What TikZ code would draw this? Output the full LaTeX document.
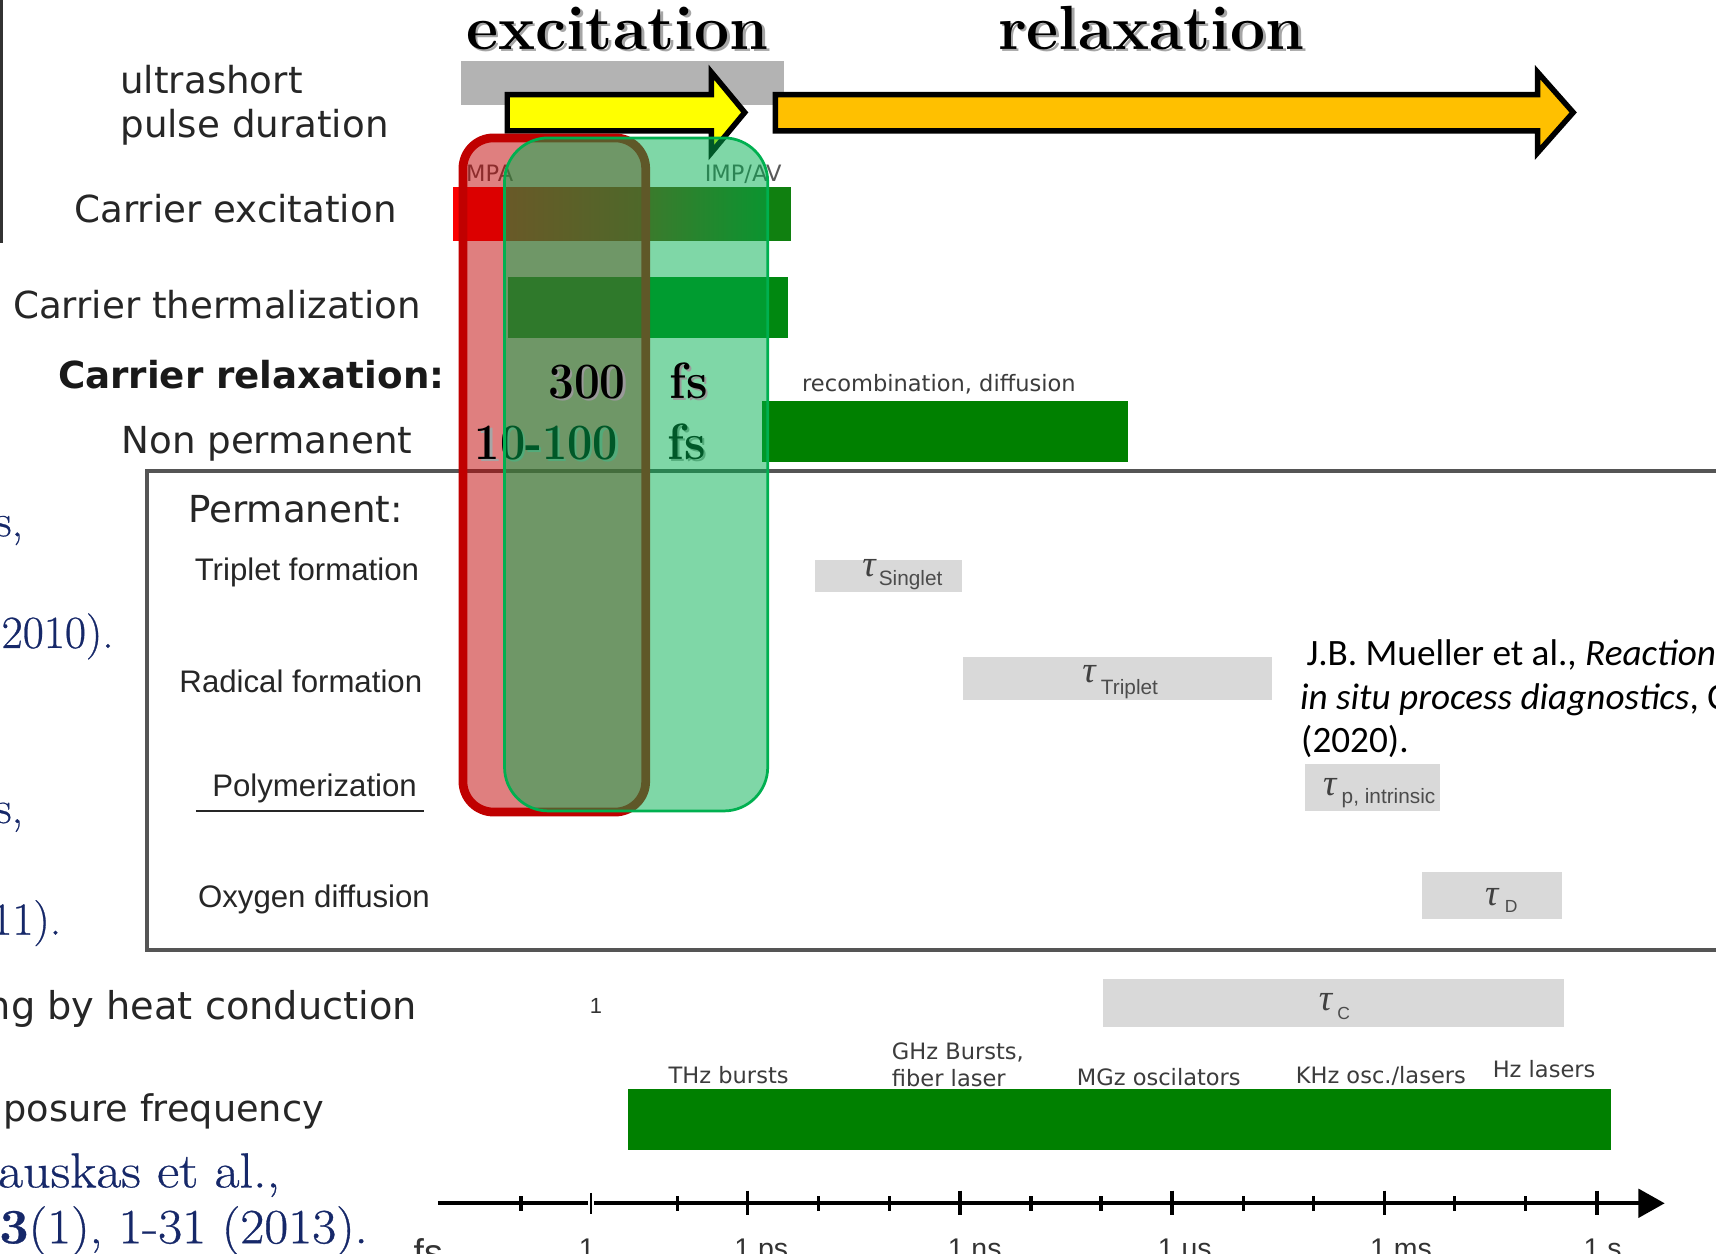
\documentclass[tikz,border=0pt]{standalone}
\usepackage{fontspec}
\usepackage{graphicx}
\newfontfamily\dvs{DejaVu Sans}
\newfontfamily\lsans{Liberation Sans}
\newfontfamily\lserif{Liberation Serif}
\newfontfamily\carl{Carlito}
\newfontfamily\citefont{Latin Modern Roman}[FakeBold=0.6]
\newcommand\fsz[1]{\fontsize{#1}{#1}\selectfont}
\definecolor{ovred}{RGB}{192,0,0}
\definecolor{ovgreen}{RGB}{0,176,80}
\definecolor{arrowyellow}{RGB}{255,255,0}
\definecolor{arroworange}{RGB}{255,192,0}
\definecolor{pulsegray}{RGB}{179,179,179}
\definecolor{taugray}{RGB}{217,217,217}
\definecolor{barred}{RGB}{250,0,0}
\definecolor{gradL}{RGB}{232,8,0}
\definecolor{gradR}{RGB}{24,120,16}
\definecolor{bargreenA}{RGB}{16,128,16}
\definecolor{thermgreen}{RGB}{0,136,16}
\definecolor{bargreen}{RGB}{0,128,0}
\definecolor{navy}{RGB}{22,40,105}
\definecolor{labeltext}{RGB}{38,38,38}
\definecolor{smalltext}{RGB}{60,60,60}
\definecolor{boxgray}{RGB}{85,85,85}
\definecolor{darkstrip}{RGB}{50,50,50}
\tikzset{
  lbl/.style={inner sep=0pt, outer sep=0pt, anchor=base west},
  lble/.style={inner sep=0pt, outer sep=0pt, anchor=base east},
  shadowtxt/.style={text=black!35},
  slabel/.style={lbl, text=labeltext, font=\dvs\fsz{34}},
  plabel/.style={lbl, text=labeltext, font=\lsans\fsz{28.5}},
  tinytxt/.style={lbl, text=smalltext, font=\dvs\fsz{20.6}},
  axlabel/.style={lbl, text=black!80, font=\lsans\fsz{26}},
  cite/.style={lble, text=navy, font=\citefont\fsz{42}},
  taubox/.style={fill=taugray},
  tausym/.style={lbl, text=black!75, font=\lserif\itshape\fsz{34}},
  tausub/.style={lbl, text=black!70, font=\lsans\fsz{19}},
  bigtitle/.style={lbl, font=\bfseries\fsz{57}},
  numtxt/.style={lbl, font=\bfseries\fsz{46.6}},
  minortick/.style={line width=3},
  majortick/.style={line width=3.5},
  bigarrow/.style={line width=5, draw=black, line join=miter},
}
\begin{document}
\begin{tikzpicture}[x=1pt,y=-1pt]
\useasboundingbox (0,0) rectangle (1568,1145);
\clip (0,0) rectangle (1568,1145);
\fill[white] (0,0) rectangle (1568,1145);

% left dark strip
\draw[line width=3, darkstrip] (1.5,0) -- (1.5,222);

% pulse duration bar
\fill[pulsegray] (421,56) rectangle (716,96);

% titles
\node[bigtitle, shadowtxt] (excsh) at (428.5,47.5) {excitation};
\node[bigtitle] (exc) at (426,45) {excitation};
\node[bigtitle, shadowtxt] (relsh) at (914.5,47.5) {relaxation};
\node[bigtitle] (rel) at (912,45) {relaxation};

% left labels
\node[slabel] (ultra) at (110,85) {ultrashort};
\node[slabel] (pulse) at (110,126) {pulse duration};
\node[slabel] (carexc) at (68,203) {Carrier excitation};
\node[slabel] (carth) at (12,291) {Carrier thermalization};
\node[slabel, font=\dvs\bfseries\fsz{34}, text=black!90] (carrel) at (53,355) {Carrier relaxation:};
\node[slabel, font=\dvs\fsz{34}] (nonperm) at (111,414) {Non permanent};
\node[slabel, anchor=base east, font=\dvs\fsz{35}] (heat) at (381,932) {ng by heat conduction};
\node[slabel, anchor=base east, font=\dvs\fsz{33.5}] (expo) at (296,1025) {posure frequency};

% cut citations at left
\node[cite] (c1) at (21,490) {s,};
\node[cite] (c2) at (104,592) {2010).};
\node[cite] (c3) at (21,752) {s,};
\node[cite] (c4) at (56,854) {11).};
\node[cite, font=\citefont\fsz{45}] (c5) at (256,1085) {\scalebox{1.1}[1]{auskas et al.,}};
\node[cite, font=\citefont\fsz{45}] (c6) at (336,1136) {\scalebox{1.06}[1]{\textbf{3}(1), 1-31 (2013).}};

% carrier excitation bar
\fill[barred] (414,171) rectangle (462,220);
\shade[left color=gradL, right color=gradR] (462,171) rectangle (700,220);
\fill[bargreenA] (700,171) rectangle (723,220);
\node[tinytxt, text=black!65] (mpa) at (426,166) {MPA};
\node[tinytxt, text=black!65] (impav) at (644,166) {IMP/AV};

% thermalization bar
\fill[thermgreen] (464,253) rectangle (720,309);

% non permanent bar
\fill[bargreen] (696,366.5) rectangle (1031,422);
\node[tinytxt] (recomb) at (733,358) {recombination, diffusion};

% permanent box
\draw[line width=3.5, boxgray] (1590,430) -- (134,430) -- (134,868) -- (1590,868);
\node[slabel] (perm) at (172,477) {Permanent:};
\node[plabel] (trip) at (178,530) {Triplet formation};
\node[plabel] (rad) at (164,633) {Radical formation};
\node[plabel] (poly) at (194,728) {Polymerization};
\draw[line width=2.5, black!85] (179,741) -- (387,741);
\node[plabel] (oxy) at (181,829) {Oxygen diffusion};

% tau boxes
\fill[taubox] (745,512) rectangle (879,541);
\node[tausym] (tsing) at (788,527) {τ};
\node[tausub] (ssing) at (803,535) {Singlet};
\fill[taubox] (880,600) rectangle (1162,640);
\node[tausym] (ttrip) at (989,624) {τ};
\node[tausub] (strip) at (1006,635) {Triplet};
\fill[taubox] (1192,698) rectangle (1316,741);
\node[tausym] (tpint) at (1209,727) {τ};
\node[tausub] (spint) at (1226,734) {p, intrinsic};
\fill[taubox] (1299,797) rectangle (1427,840);
\node[tausym] (tdiff) at (1357,827) {τ};
\node[tausub, font=\lsans\fsz{16}] (sdiff) at (1375,834) {D};

% reference
\node[lbl, font=\carl\fsz{34}, text=black] (cit1) at (1194,608) {J.B. Mueller et al., \textit{Reaction}};
\node[lbl, font=\carl\fsz{34}, text=black] (cit2) at (1188,648) {\textit{in situ process diagnostics}, C};
\node[lbl, font=\carl\fsz{34}, text=black] (cit3) at (1189,688) {(2020).};

% heat conduction row
\node[lbl, font=\lsans\fsz{20}, text=black!80] (hmark) at (539,926) {1};
\fill[taubox] (1008,895) rectangle (1429,938);
\node[tausym] (tcond) at (1205,923) {τ};
\node[tausub, font=\lsans\fsz{16}] (scond) at (1222,932) {C};

% exposure frequency bar
\fill[bargreen] (574,995) rectangle (1472,1051);
\node[tinytxt] (thz) at (611,990) {THz bursts};
\node[tinytxt] (ghz1) at (815,968.5) {GHz Bursts,};
\node[tinytxt] (ghz2) at (815,993) {fiber laser};
\node[tinytxt] (mgz) at (984,992) {MGz oscilators};
\node[tinytxt] (khz) at (1184,990) {KHz osc./lasers};
\node[tinytxt] (hzl) at (1364,985) {Hz lasers};

% time axis
\draw[line width=4] (400,1099.5) -- (537,1099.5);
\draw[line width=4] (543,1099.5) -- (1500,1099.5);
\fill (1497,1086) -- (1521,1099.5) -- (1497,1113) -- cycle;
\draw[line width=2] (540,1090) -- (540,1109);
\foreach \t in {476,619,748,813,942,1006,1136,1200,1329,1394}
  \draw[minortick] (\t,1093) -- (\t,1106.5);
\foreach \t in {683,877,1071,1265,1459}
  \draw[majortick] (\t,1088) -- (\t,1110);
\node[axlabel, font=\lsans\fsz{34}] (lfs) at (378,1156) {fs};
\node[axlabel] (l1) at (529,1149.5) {1};
\node[axlabel] (lps) at (671,1149.5) {1 ps};
\node[axlabel] (lns) at (866,1149.5) {1 ns};
\node[axlabel] (lus) at (1058,1149.5) {1 us};
\node[axlabel] (lms) at (1252,1149.5) {1 ms};
\node[axlabel] (ls) at (1447,1149.5) {1 s};

% big arrows
\draw[bigarrow, fill=arrowyellow] (463.5,86.5) -- (650,86.5) -- (650,66) -- (680.5,102.75) -- (650,139.5) -- (650,119.5) -- (463.5,119.5) -- cycle;
\draw[bigarrow, fill=arroworange] (708.5,86.5) -- (1405,86.5) -- (1405,66) -- (1437.5,102.75) -- (1405,139.5) -- (1405,119.5) -- (708.5,119.5) -- cycle;

% red overlay
\draw[line width=8, draw=ovred, fill=ovred, fill opacity=0.5, rounded corners=28] (423,126) rectangle (590,742);

% 10-100 fs (below green overlay)
\node[numtxt, shadowtxt] (n2sh) at (436,422) {\scalebox{0.88}[1]{10-100}};
\node[numtxt] (n2) at (434,420) {\scalebox{0.88}[1]{10-100}};
\node[numtxt, shadowtxt] (f2sh) at (612,422) {\scalebox{0.95}[1]{fs}};
\node[numtxt] (f2) at (610,420) {\scalebox{0.95}[1]{fs}};

% green overlay
\draw[line width=2.5, draw=ovgreen, fill=ovgreen, fill opacity=0.5, rounded corners=40] (461,126) rectangle (701.5,741);

% 300 fs (on top)
\node[numtxt, text=black!40] (n1sh) at (503,366) {\scalebox{0.9}[1]{300}};
\node[numtxt] (n1) at (501,364) {\scalebox{0.9}[1]{300}};
\node[numtxt, text=black!40] (f1sh) at (614,366) {\scalebox{0.95}[1]{fs}};
\node[numtxt] (f1) at (612,364) {\scalebox{0.95}[1]{fs}};
\end{tikzpicture}
\end{document}
